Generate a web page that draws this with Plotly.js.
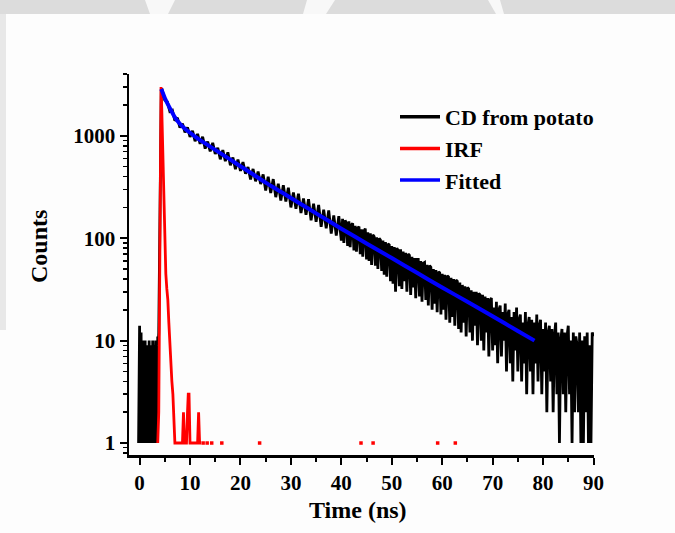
<!DOCTYPE html>
<html>
<head>
<meta charset="utf-8">
<script src="https://cdn.plot.ly/plotly-3.0.1.min.js"></script>
<style>html,body{margin:0;padding:0;background:#fdfdfd;}#chart{width:675px;height:533px;}</style>
</head>
<body>
<div id="chart"></div>
<script>
// ---- Measured decay (CD from potato) ----
// background before the pulse
var bgTime = [
  -0.2,-0.1,0.0,0.1,0.2,0.3,0.4,0.5,0.6,0.7,0.8,0.9,1.0,1.1,1.2,1.3,1.4,1.5,1.6,1.7,
  1.8,1.9,2.0,2.1,2.2,2.3,2.4,2.5,2.6,2.7,2.8,2.9,3.0,3.1,3.2,3.3,3.4,3.5,3.6,3.7
];
var bgCounts = [
  1,9,14,1,8,12,1,9,1,10,1,8,2,10,1,9,1,8,9,1,
  8,10,1,7,9,1,8,1,10,7,1,9,8,1,10,1,8,1,11,9
];
// rising edge and early decay
var riseTime = [3.8,3.9,4.0,4.1,4.2,4.3,4.4];
var riseCounts = [12,40,200,800,1900,2800,2900];
var earlyTime = [
  4.5,5,5.5,6,6.5,7,7.5,8,8.5,9,9.5,10,10.5,11,11.5,12,12.5,13,13.5,14,
  14.5,15,15.5,16,16.5,17,17.5,18,18.5,19,19.5,20,20.5,21,21.5,22,22.5,23,23.5,24,
  24.5,25,25.5,26,26.5,27,27.5,28,28.5,29,29.5,30,30.5,31,31.5,32,32.5,33,33.5,34,
  34.5,35,35.5,36,36.5,37,37.5,38,38.5,39,39.5,40
];
var earlyCounts = [
  2750,2230,2150,1730,1780,1410,1500,1205,1315,1080,1210,975,1120,885,1045,835,980,750,880,705,
  855,665,765,590,725,567,690,515,615,472,587,455,555,427,497,375,475,360,448,338,
  420,293,398,277,378,252,341,233,329,228,312,200,280,194,272,176,245,169,241,150,
  217,145,211,129,190,125,187,111,167,106,164,95
];
var lateTime = [
  40.25,40.5,40.75,41,41.25,41.5,41.75,42,42.25,42.5,42.75,43,43.25,43.5,43.75,44,44.25,44.5,44.75,45,
  45.25,45.5,45.75,46,46.25,46.5,46.75,47,47.25,47.5,47.75,48,48.25,48.5,48.75,49,49.25,49.5,49.75,50,
  50.25,50.5,50.75,51,51.25,51.5,51.75,52,52.25,52.5,52.75,53,53.25,53.5,53.75,54,54.25,54.5,54.75,55,
  55.25,55.5,55.75,56,56.25,56.5,56.75,57,57.25,57.5,57.75,58,58.25,58.5,58.75,59,59.25,59.5,59.75,60,
  60.25,60.5,60.75,61,61.25,61.5,61.75,62,62.25,62.5,62.75,63,63.25,63.5,63.75,64,64.25,64.5,64.75,65,
  65.25,65.5,65.75,66,66.25,66.5,66.75,67,67.25,67.5,67.75,68,68.25,68.5,68.75,69,69.25,69.5,69.75,70,
  70.25,70.5,70.75,71,71.25,71.5,71.75,72,72.25,72.5,72.75,73,73.25,73.5,73.75,74,74.25,74.5,74.75,75,
  75.25,75.5,75.75,76,76.25,76.5,76.75,77,77.25,77.5,77.75,78,78.25,78.5,78.75,79,79.25,79.5,79.75,80,
  80.25,80.5,80.75,81,81.25,81.5,81.75,82,82.25,82.5,82.75,83,83.25,83.5,83.75,84,84.25,84.5,84.75,85,
  85.25,85.5,85.75,86,86.25,86.5,86.75,87,87.25,87.5,87.75,88,88.25,88.5,88.75,89,89.25,89.5,89.75,90
];
var lateCounts = [
  155,90,150,140,84,146,82,135,140,76,132,74,126,130,70,122,66,118,124,62,
  114,60,112,55,108,104,54,102,50,100,96,48,95,44,92,42,88,86,38,84,
  36,82,30,80,76,34,78,32,74,38,72,30,70,68,28,66,33,64,26,62,
  62,27,60,24,57,58,25,55,22,54,52,20,50,23,49,19,47,46,18,45,
  20,44,16,43,42,15,41,17,40,14,39,38,13,37,12,35,15,34,11,33,
  32,12,31,10,30,14,30,9,29,28,10,28,8,27,12,26,7,25,26,8,
  21,9,24,6,20,22,7,19,10,23,5,18,20,6,17,4,19,8,21,5,
  16,18,4,15,6,19,3,14,17,5,16,3,15,6,18,4,14,16,3,13,
  5,15,2,12,14,4,13,2,11,15,3,12,1,10,13,3,12,2,11,14,
  3,10,1,12,2,11,9,2,12,1,10,1,11,2,12,1,9,1,12,11
];

// ---- Instrument response function ----
var irfTime = [3.6,3.8,3.9,4.0,4.1,4.2,4.25,4.4,4.55,4.7,4.85,5.0,5.2,5.4,5.6,5.8,6.0,6.2,6.4,6.6,6.8,7.0,
  7.3,7.6,7.9,8.2,8.5,8.7,8.9,9.1,9.3,9.5,9.65,9.8,10.0,10.3,10.6,10.9,11.2,11.5,11.7,11.9,12.2];
var irfCounts = [1,2,10,100,1000,2600,3000,1800,900,300,120,65,45,32,25,15,9,6,4,3,2,1,
  1,1,1,1,1,2,1,1,1,2,3,3,1,1,1,1,1,1,2,1,1];
var irfDotTime = [12.6,13.4,14.3,16.3,23.8,43.9,46.3,59.1,62.6];
var irfDotCounts = [1,1,1,1,1,1,1,1,1];

// ---- Fitted curve ----
var fitTime = [4.3,5,6,7,8,9,10,11,12,14,16,18,20,22,25,28,31.7,35,40,45,50,55,60,65,70,75,78.3];
var fitCounts = [2865,2345,1862,1514,1310,1175,1072,984,910,785,678,585,505,436,349,284,220,175,124,89,64,46,33,24,17.3,12.4,10.0];

var seriesNames = ['CD from potato','IRF','Fitted'];
var seriesColors = ['#000000','#ff0000','#0000ff'];
var xTicks = [0,10,20,30,40,50,60,70,80,90];
var yTicks = [1,10,100,1000];
var yTickText = ['1','10','100','1000'];

var cdTime = bgTime.concat(riseTime, earlyTime, lateTime);
var cdCounts = bgCounts.concat(riseCounts, earlyCounts, lateCounts);

var FONT = 'Liberation Serif, Times New Roman, serif';

var traces = [
  {x: cdTime, y: cdCounts, name: seriesNames[0], type: 'scatter', mode: 'lines',
   showlegend: false, line: {color: seriesColors[0], width: 2.8}},
  {x: irfTime, y: irfCounts, name: seriesNames[1], type: 'scatter', mode: 'lines',
   showlegend: false, line: {color: seriesColors[1], width: 2.8}},
  {x: irfDotTime, y: irfDotCounts, name: seriesNames[1], type: 'scatter', mode: 'markers',
   showlegend: false, marker: {color: seriesColors[1], size: 3.5, symbol: 'square'}},
  {x: fitTime, y: fitCounts, name: seriesNames[2], type: 'scatter', mode: 'lines',
   showlegend: false, line: {color: seriesColors[2], width: 4, shape: 'spline', smoothing: 0.5}}
];
// legend entries (thick line samples as in the reference)
for (var i = 0; i < seriesNames.length; i++) {
  traces.push({x: [null], y: [null], name: seriesNames[i], type: 'scatter', mode: 'lines',
    showlegend: true, line: {color: seriesColors[i], width: 3.5}});
}

var W = 465, H = 381; // plot area px
function px(xp){ return (xp - 129) / W; }
function py(yp){ return 1 - (yp - 74) / H; }

var layout = {
  width: 675, height: 533,
  margin: {l: 129, r: 81, t: 74, b: 78},
  paper_bgcolor: '#fdfdfd',
  plot_bgcolor: 'rgba(0,0,0,0)',
  showlegend: true,
  font: {family: FONT, color: '#000', size: 20, weight: 700},
  xaxis: {
    range: [-2.1, 90.1], tickmode: 'array', tickvals: xTicks,
    ticks: 'outside', ticklen: 7, tickwidth: 2, tickcolor: '#000',
    minor: {dtick: 5, tick0: 0, ticks: 'outside', ticklen: 4, tickwidth: 2, tickcolor: '#000', showgrid: false},
    showline: true, linewidth: 2.5, linecolor: '#000', mirror: false,
    showgrid: false, zeroline: false,
    tickfont: {family: FONT, size: 21, color: '#000', weight: 700}
  },
  yaxis: {
    type: 'log', range: [-0.117, 3.604], tickmode: 'array', tickvals: yTicks, ticktext: yTickText,
    ticks: 'outside', ticklen: 7, tickwidth: 2, tickcolor: '#000',
    minor: {dtick: 'D1', ticks: 'outside', ticklen: 4, tickwidth: 1.5, tickcolor: '#000', showgrid: false},
    showline: true, linewidth: 2.5, linecolor: '#000', mirror: false,
    showgrid: false, zeroline: false,
    tickfont: {family: FONT, size: 21, color: '#000', weight: 700}
  },
  legend: {
    x: px(395), y: py(96), xanchor: 'left', yanchor: 'top',
    bgcolor: 'rgba(0,0,0,0)', borderwidth: 0,
    font: {family: FONT, size: 22, color: '#000', weight: 700},
    itemwidth: 40, tracegroupgap: 0
  },
  annotations: [
    {text: 'Time (ns)', xref: 'paper', yref: 'paper', x: px(358), y: py(510),
     xanchor: 'center', yanchor: 'middle', showarrow: false,
     font: {family: FONT, size: 24, color: '#000', weight: 700}},
    {text: 'Counts', xref: 'paper', yref: 'paper', x: px(39), y: py(247),
     xanchor: 'center', yanchor: 'middle', showarrow: false, textangle: -90,
     font: {family: FONT, size: 24, color: '#000', weight: 700}}
  ],
  shapes: [
    {type: 'rect', xref: 'paper', yref: 'paper', layer: 'below',
     x0: px(0), x1: px(675), y0: py(14), y1: py(0), fillcolor: '#dcdcdc', line: {width: 0}},
    {type: 'path', xref: 'paper', yref: 'paper', layer: 'below',
     path: 'M' + px(145) + ',' + py(0) + ' L' + px(175) + ',' + py(0) + ' L' + px(168) + ',' + py(14) + ' L' + px(150) + ',' + py(14) + ' Z',
     fillcolor: '#f8f8f8', line: {width: 0}},
    {type: 'path', xref: 'paper', yref: 'paper', layer: 'below',
     path: 'M' + px(307) + ',' + py(0) + ' L' + px(335) + ',' + py(0) + ' L' + px(326) + ',' + py(14) + ' L' + px(303) + ',' + py(14) + ' Z',
     fillcolor: '#f8f8f8', line: {width: 0}},
    {type: 'path', xref: 'paper', yref: 'paper', layer: 'below',
     path: 'M' + px(488) + ',' + py(0) + ' L' + px(500) + ',' + py(0) + ' L' + px(504) + ',' + py(14) + ' L' + px(496) + ',' + py(14) + ' Z',
     fillcolor: '#f8f8f8', line: {width: 0}},
    {type: 'rect', xref: 'paper', yref: 'paper', layer: 'below',
     x0: px(0), x1: px(6), y0: py(330), y1: py(14), fillcolor: '#e8e8e8', line: {width: 0}}
  ]
};

Plotly.newPlot('chart', traces, layout, {staticPlot: true, displayModeBar: false});
</script>
</body>
</html>
